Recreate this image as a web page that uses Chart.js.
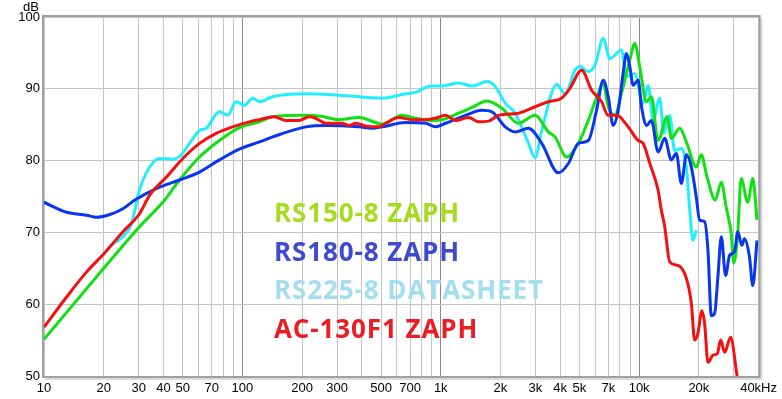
<!DOCTYPE html>
<html>
<head>
<meta charset="utf-8">
<script src="https://cdn.jsdelivr.net/npm/chart.js@4.4.0/dist/chart.umd.min.js"></script>
<style>
  html, body { margin: 0; padding: 0; background: #fff; }
  #wrap { width: 782px; height: 399px; }
</style>
</head>
<body>
<div id="wrap"><canvas id="fr"></canvas></div>
<script>
// frequency response (Hz / dB)
const rs150Freq = [10, 20, 30.3, 40, 48.2, 60.8, 76.6, 96.6, 122, 142, 209, 244, 307, 387, 507, 637, 746, 901, 1016, 1231, 1437, 1709, 2033, 2465, 2990, 3488, 3768, 4313, 4937, 5543, 6220, 6590, 6984, 7548, 8150, 8974, 9510, 10080, 10900, 11530, 12460, 13850, 14520, 16030, 17300, 19410, 20560, 22000, 24200, 25940, 27470, 29100, 30000, 31420, 32660, 35300, 37400, 39290];
const rs150Db = [55.1, 65.0, 70.8, 74.3, 77.3, 80.5, 82.8, 84.6, 85.4, 86.1, 86.3, 86.2, 85.7, 86.0, 85.1, 86.3, 85.9, 85.6, 85.7, 86.6, 87.4, 88.3, 87.3, 85.2, 86.3, 84.0, 83.3, 80.5, 82.4, 85.6, 89.4, 90.8, 87.5, 86.3, 89.4, 94.0, 96.3, 93.0, 88.2, 88.9, 82.8, 86.1, 83.1, 84.5, 82.6, 79.1, 80.8, 77.7, 74.5, 77.0, 73.5, 69.9, 65.7, 69.9, 77.5, 74.2, 77.5, 71.7];

const rs180Freq = [10, 13, 16.4, 18.4, 21.5, 25, 28.7, 36.8, 48.2, 60.8, 76.6, 96.6, 122, 142, 209, 263, 387, 452, 507, 665, 838, 940, 1057, 1331, 1613, 1811, 2114, 2373, 2767, 3229, 3915, 4397, 4937, 5543, 6100, 6590, 6984, 7400, 7841, 8300, 8630, 8974, 9331, 9885, 10280, 10900, 11530, 12460, 13460, 14520, 15390, 16330, 17300, 18330, 19410, 20180, 21390, 22230, 23110, 24000, 24950, 25940, 27290, 28570, 30260, 31420, 32930, 33970, 35980, 37400, 39290];
const rs180Db = [74.2, 72.8, 72.4, 72.1, 72.5, 73.3, 74.5, 76.1, 77.3, 78.4, 80.1, 81.6, 82.6, 83.3, 84.7, 84.9, 84.7, 84.5, 84.7, 85.3, 85.2, 84.7, 85.2, 86.3, 87.0, 86.8, 84.7, 84.0, 84.5, 82.4, 78.3, 79.6, 82.4, 82.8, 87.0, 91.2, 88.9, 84.9, 87.0, 92.1, 94.9, 93.1, 90.5, 91.2, 87.5, 84.9, 85.6, 81.2, 83.1, 80.1, 81.0, 76.8, 80.8, 79.1, 74.9, 71.7, 71.5, 67.5, 58.4, 58.7, 63.8, 69.4, 64.0, 66.8, 67.3, 70.1, 68.2, 69.1, 66.6, 62.6, 68.9];

const rs225Freq = [20, 22.3, 25, 27.6, 30.3, 34.1, 38.3, 44.6, 49.2, 54.2, 60.8, 65.7, 76.6, 84.4, 92.9, 102.3, 112.7, 121.7, 142, 209, 307, 507, 665, 746, 888, 1016, 1231, 1437, 1709, 1883, 2114, 2373, 2767, 2990, 3229, 3841, 4233, 4752, 5032, 5543, 5988, 6590, 7120, 8150, 8630, 9510, 10470, 11100, 11760, 12700, 13300, 14260, 15100, 16330, 17300, 17990, 18680, 19410];
const rs225Db = [67.0, 68.4, 69.4, 71.2, 75.9, 79.1, 80.3, 80.2, 80.8, 82.4, 84.2, 84.5, 86.8, 86.3, 88.2, 87.7, 88.7, 88.2, 88.9, 89.3, 89.1, 88.7, 89.3, 89.5, 90.4, 90.4, 90.8, 90.4, 91.0, 90.3, 88.0, 86.6, 82.4, 80.4, 84.2, 90.6, 89.3, 92.6, 93.1, 92.4, 93.3, 97.0, 94.2, 95.4, 91.7, 92.1, 88.0, 90.5, 85.6, 88.7, 83.8, 86.3, 81.4, 81.7, 79.1, 73.1, 68.9, 70.3];

const ac130Freq = [10, 13, 16.4, 20, 25, 30.3, 34.1, 41.4, 50.1, 60.8, 73.8, 89.4, 108.4, 121.7, 144.8, 166, 193, 217, 234, 263, 319, 345, 373, 419, 488, 527, 615, 718, 838, 940, 1057, 1186, 1383, 1553, 1743, 1956, 2465, 2990, 3488, 4070, 4485, 5130, 5760, 6466, 6984, 7700, 8806, 9885, 10470, 11320, 12460, 12940, 13460, 14260, 15700, 17300, 18330, 19050, 19770, 20730, 21390, 22230, 23570, 24770, 25760, 26980, 28910, 31190, 33000];
const ac130Db = [56.8, 61.0, 64.5, 67.0, 70.1, 72.6, 75.2, 77.7, 80.3, 82.4, 83.8, 84.7, 85.4, 85.7, 86.1, 85.6, 85.6, 86.1, 85.9, 85.2, 85.2, 84.9, 85.2, 84.8, 84.7, 85.2, 86.0, 85.7, 85.7, 85.9, 86.3, 85.6, 86.0, 85.4, 85.5, 86.3, 86.6, 87.5, 88.2, 88.7, 90.1, 92.6, 89.8, 88.2, 86.3, 86.3, 84.7, 82.8, 82.4, 79.6, 75.9, 73.1, 70.8, 65.9, 65.4, 63.6, 60.1, 55.0, 55.9, 59.1, 57.3, 51.9, 52.9, 53.1, 55.0, 53.3, 55.4, 50.0, 46.5];

const gridFreqs = [10, 20, 30, 40, 50, 60, 70, 80, 90, 100, 200, 300, 400, 500, 600, 700, 800, 900,
  1000, 2000, 3000, 4000, 5000, 6000, 7000, 8000, 9000, 10000, 20000, 30000, 40000];
const labelFreqs = [10, 20, 30, 40, 50, 70, 100, 200, 300, 500, 700, 1000, 2000, 3000, 4000, 5000, 7000, 10000, 20000, 40000];
const labelTexts = ['10', '20', '30', '40', '50', '70', '100', '200', '300', '500', '700', '1k', '2k', '3k', '4k', '5k', '7k', '10k', '20k', '40kHz'];

const legendNames = ['RS150-8 ZAPH', 'RS180-8 ZAPH', 'RS225-8 DATASHEET', 'AC-130F1 ZAPH'];
const legendColors = ['#a6dc1e', '#3e4bd0', '#a3def0', '#ec1c24'];

const toPoints = (fs, dbs) => fs.map((f, i) => ({ x: f, y: dbs[i] }));

const decor = {
    id: 'decor',
    afterDatasetsDraw(chart) {
        const { ctx, chartArea: a } = chart;
        ctx.save();
        // bevel frame round the plot
        ctx.strokeStyle = '#dcdcdc';
        ctx.lineWidth = 3;
        ctx.beginPath();
        ctx.moveTo(a.right + 2.5, a.top + 1);
        ctx.lineTo(a.right + 2.5, a.bottom + 2.5);
        ctx.lineTo(a.left + 1, a.bottom + 2.5);
        ctx.stroke();
        ctx.strokeStyle = '#a0a0a0';
        ctx.lineWidth = 2;
        ctx.strokeRect(a.left - 1, a.top - 1, a.right - a.left + 2, a.bottom - a.top + 2);

        ctx.font = 'bold 26px "Open Sans"';
        ctx.letterSpacing = '0.9px';
        ctx.textBaseline = 'alphabetic';
        ctx.textAlign = 'left';
        legendNames.forEach((n, i) => {
            ctx.fillStyle = legendColors[i];
            ctx.fillText(n, 274, 222 + i * 38.7);
        });
        ctx.letterSpacing = '0px';

        ctx.font = '13px "Liberation Sans"';
        ctx.fillStyle = '#000';
        ctx.textAlign = 'center';
        ctx.fillText('dB', 31, 11);
        ctx.restore();
    }
};

const line = (data, color) => ({
    data, borderColor: color, borderWidth: 3, pointRadius: 0,
    showLine: true, fill: false, cubicInterpolationMode: 'monotone'
});

new Chart(document.getElementById('fr'), {
    type: 'scatter',
    data: {
        datasets: [
            line(toPoints(ac130Freq, ac130Db), '#f51010'),
            line(toPoints(rs180Freq, rs180Db), '#0836f0'),
            line(toPoints(rs150Freq, rs150Db), '#12e012'),
            line(toPoints(rs225Freq, rs225Db), '#22eeff')
        ]
    },
    options: {
        responsive: true,
        maintainAspectRatio: false,
        animation: false,
        layout: { padding: { left: 0, top: 17, right: 22, bottom: 0 } },
        plugins: { legend: { display: false }, tooltip: { enabled: false } },
        scales: {
            x: {
                type: 'logarithmic',
                min: 10, max: 40000,
                afterBuildTicks: s => { s.ticks = gridFreqs.map(v => ({ value: v })); },
                afterFit: s => { s.height = 23; },
                border: { display: false },
                grid: {
                    drawTicks: false,
                    color: c => [100, 1000, 10000].includes(c.tick.value) ? '#8a8a8a' : '#c4c4c4'
                },
                ticks: {
                    autoSkip: false, maxRotation: 0, padding: 5,
                    color: '#000', font: { family: 'Liberation Sans', size: 13 },
                    callback: v => {
                        const i = labelFreqs.indexOf(v);
                        return i >= 0 ? labelTexts[i] : '';
                    }
                }
            },
            y: {
                min: 50, max: 100,
                afterFit: s => { s.width = 44; },
                border: { display: false },
                grid: { drawTicks: false, color: '#c4c4c4' },
                ticks: {
                    stepSize: 10, padding: 4,
                    color: '#000', font: { family: 'Liberation Sans', size: 13 }
                }
            }
        }
    },
    plugins: [decor]
});
</script>
</body>
</html>
